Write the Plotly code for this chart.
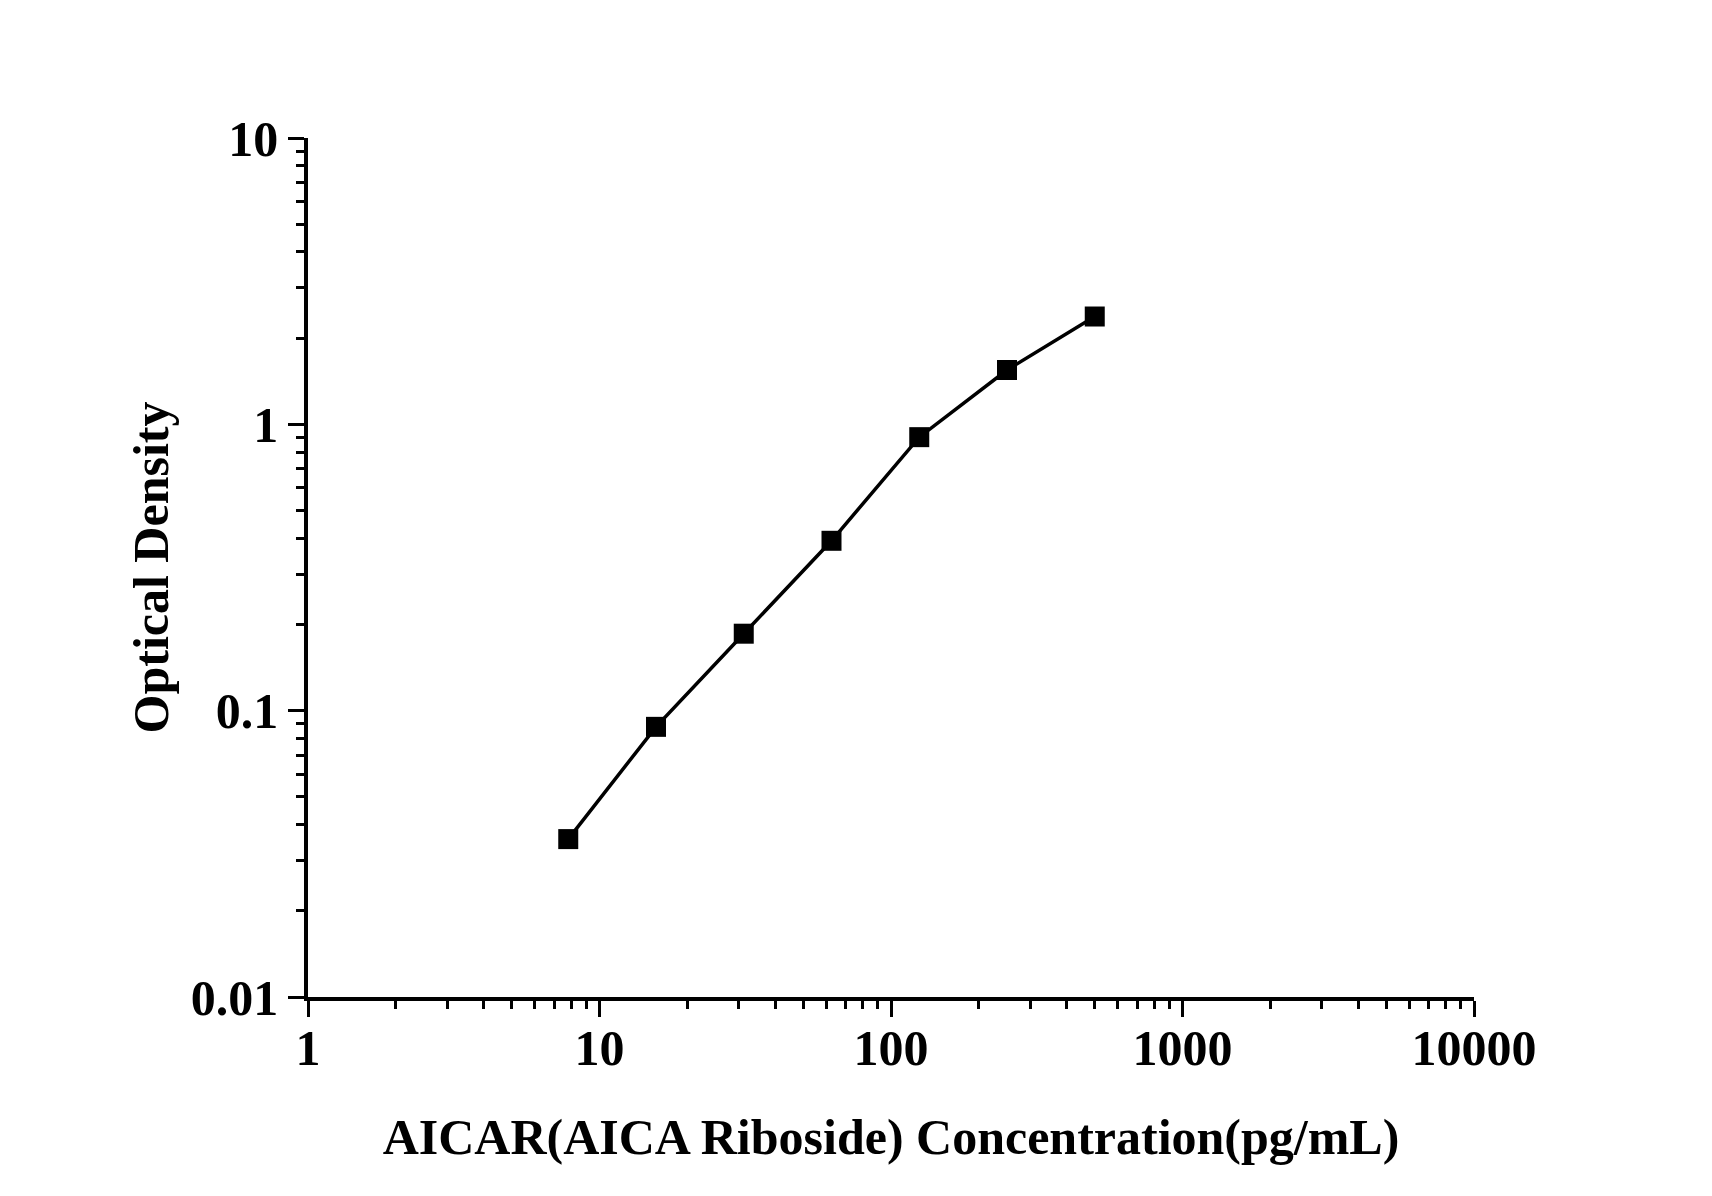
import plotly.graph_objects as go

# standard curve: concentration (pg/mL) vs optical density
concentration = [7.8125, 15.625, 31.25, 62.5, 125, 250, 500]
optical_density = [0.0356, 0.0878, 0.1857, 0.392, 0.902, 1.548, 2.38]

x_ticks = [1, 10, 100, 1000, 10000]
x_tick_text = ["1", "10", "100", "1000", "10000"]
y_ticks = [0.01, 0.1, 1, 10]
y_tick_text = ["0.01", "0.1", "1", "10"]

font_family = "Liberation Serif"


def minor_vals(decades):
    return [m * d for d in decades[:-1] for m in range(2, 10)]


fig = go.Figure(
    go.Scatter(
        x=concentration,
        y=optical_density,
        mode="lines+markers",
        line=dict(color="black", width=3.5),
        marker=dict(symbol="square", size=20, color="black"),
        showlegend=False,
    )
)

axis_common = dict(
    type="log",
    showgrid=False,
    zeroline=False,
    showline=True,
    linecolor="black",
    linewidth=3.5,
    ticks="outside",
    ticklen=16,
    tickwidth=3,
    tickcolor="black",
    tickfont=dict(family=font_family, size=50, color="black", weight="bold"),
    title_font=dict(family=font_family, size=50, color="black", weight="bold"),
)

fig.update_xaxes(
    **axis_common,
    range=[0, 4],
    tickvals=x_ticks,
    ticktext=x_tick_text,
    minor=dict(tickvals=minor_vals(x_ticks), ticks="outside", ticklen=8, tickwidth=3, tickcolor="black"),
    title_text="<b>AICAR(AICA Riboside) Concentration(pg/mL)</b>",
    title_standoff=45,
    ticklabelstandoff=-12,
)
fig.update_yaxes(
    **axis_common,
    range=[-2, 1],
    tickvals=y_ticks,
    ticktext=y_tick_text,
    minor=dict(tickvals=minor_vals(y_ticks), ticks="outside", ticklen=8, tickwidth=3, tickcolor="black"),
    title_text="<b>Optical Density</b>",
    title_standoff=7,
)

fig.update_layout(
    width=1696,
    height=1180,
    margin=dict(l=300, r=230, t=130, b=191),
    paper_bgcolor="white",
    plot_bgcolor="white",
    font=dict(family=font_family, color="black"),
)

fig.write_html("out.html")
